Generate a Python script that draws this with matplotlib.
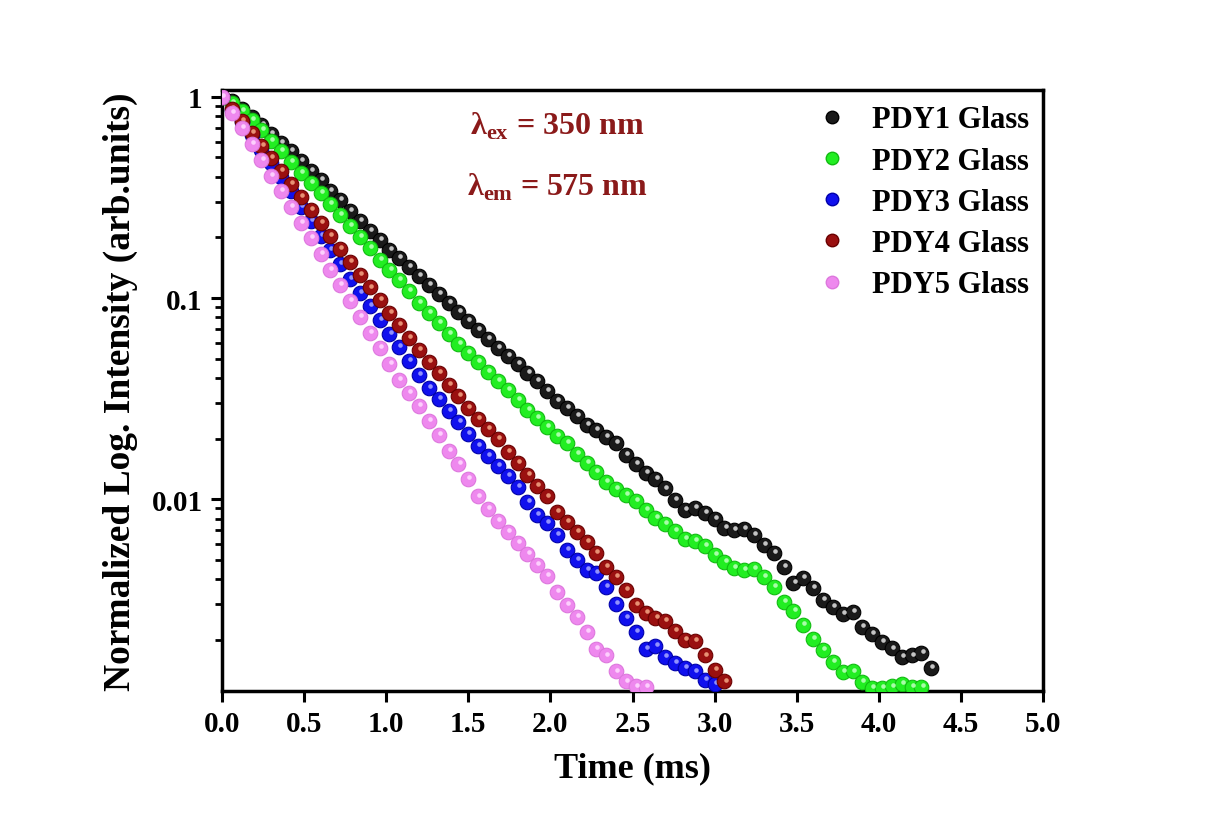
import matplotlib
matplotlib.use("Agg")
import matplotlib.pyplot as plt
import matplotlib.transforms as mtransforms
from matplotlib.lines import Line2D
import numpy as np

# ========================================================================
# Data (time in ms, normalized intensity)
# ========================================================================
time_ms = [
    0.00, 0.06, 0.12, 0.18, 0.24, 0.30, 0.36, 0.42, 0.48, 0.54,
    0.60, 0.66, 0.72, 0.78, 0.84, 0.90, 0.96, 1.02, 1.08, 1.14,
    1.20, 1.26, 1.32, 1.38, 1.44, 1.50, 1.56, 1.62, 1.68, 1.74,
    1.80, 1.86, 1.92, 1.98, 2.04, 2.10, 2.16, 2.22, 2.28, 2.34,
    2.40, 2.46, 2.52, 2.58, 2.64, 2.70, 2.76, 2.82, 2.88, 2.94,
    3.00, 3.06, 3.12, 3.18, 3.24, 3.30, 3.36, 3.42, 3.48, 3.54,
    3.60, 3.66, 3.72, 3.78, 3.84, 3.90, 3.96, 4.02, 4.08, 4.14,
    4.20, 4.26, 4.32,
]

pdy1 = [
    1.0, 0.955, 0.872, 0.795, 0.726, 0.654, 0.590, 0.538, 0.480, 0.428,
    0.387, 0.341, 0.307, 0.271, 0.242, 0.215, 0.194, 0.173, 0.158, 0.143,
    0.129, 0.116, 0.105, 0.0944, 0.0852, 0.0768, 0.0693, 0.0625, 0.0564, 0.0514,
    0.0469, 0.0423, 0.0386, 0.0345, 0.0307, 0.0284, 0.0259, 0.0233, 0.0220, 0.0203,
    0.0190, 0.0166, 0.0149, 0.0135, 0.0126, 0.0113, 0.00989, 0.00882, 0.00902, 0.00852,
    0.00795, 0.00717, 0.00701, 0.00709, 0.00662, 0.00590, 0.00538, 0.00459, 0.00382, 0.00405,
    0.00361, 0.00314, 0.00290, 0.00268, 0.00274, 0.00231, 0.00213, 0.00194, 0.00181, 0.00164,
    0.00167, 0.00171, 0.00144,
]

pdy2 = [
    1.0, 0.934, 0.852, 0.768, 0.685, 0.604, 0.538, 0.475, 0.419, 0.373,
    0.333, 0.294, 0.259, 0.228, 0.201, 0.177, 0.155, 0.138, 0.123, 0.108,
    0.0944, 0.0842, 0.0751, 0.0662, 0.0590, 0.0532, 0.0480, 0.0428, 0.0386, 0.0348,
    0.0311, 0.0277, 0.0253, 0.0228, 0.0206, 0.0190, 0.0167, 0.0151, 0.0136, 0.0122,
    0.0112, 0.0105, 0.00977, 0.00882, 0.00804, 0.00751, 0.00693, 0.00632, 0.00618, 0.00584,
    0.00526, 0.00486, 0.00454, 0.00443, 0.00448, 0.00409, 0.00365, 0.00307, 0.00277, 0.00236,
    0.00201, 0.00177, 0.00155, 0.00138, 0.00139, 0.00123, 0.00115, 0.00115, 0.00117, 0.00120,
    0.00116, 0.00116,
]

pdy3 = [
    1.0, 0.862, 0.751, 0.647, 0.545, 0.469, 0.400, 0.341, 0.284, 0.242,
    0.203, 0.173, 0.148, 0.124, 0.106, 0.0912, 0.0777, 0.0662, 0.0571, 0.0486,
    0.0414, 0.0357, 0.0314, 0.0274, 0.0242, 0.0211, 0.0184, 0.0164, 0.0146, 0.0130,
    0.0115, 0.00966, 0.00832, 0.00760, 0.00662, 0.00557, 0.00497, 0.00443, 0.00428, 0.00365,
    0.00300, 0.00256, 0.00218, 0.00179, 0.00186, 0.00164, 0.00153, 0.00144, 0.00139, 0.00126,
    0.00120,
]

pdy4 = [
    1.0, 0.872, 0.760, 0.662, 0.571, 0.497, 0.428, 0.369, 0.318, 0.274,
    0.236, 0.203, 0.175, 0.151, 0.130, 0.113, 0.0977, 0.0842, 0.0734, 0.0632,
    0.0551, 0.0480, 0.0423, 0.0369, 0.0325, 0.0284, 0.0250, 0.0223, 0.0199, 0.0171,
    0.0151, 0.0132, 0.0116, 0.0103, 0.00862, 0.00769, 0.00685, 0.00611, 0.00538, 0.00459,
    0.00409, 0.00353, 0.00297, 0.00271, 0.00256, 0.00247, 0.00220, 0.00199, 0.00197, 0.00167,
    0.00141, 0.00124,
]

pdy5 = [
    1.0, 0.833, 0.701, 0.584, 0.486, 0.405, 0.341, 0.284, 0.236, 0.199,
    0.166, 0.138, 0.116, 0.0966, 0.0804, 0.0670, 0.0564, 0.0469, 0.0391, 0.0337,
    0.0290, 0.0244, 0.0208, 0.0173, 0.0149, 0.0126, 0.0103, 0.00892, 0.00777, 0.00685,
    0.00604, 0.00533, 0.00469, 0.00414, 0.00345, 0.00297, 0.00259, 0.00218, 0.00179, 0.00167,
    0.00139, 0.00124, 0.00117, 0.00116,
]

labels = ["PDY1 Glass", "PDY2 Glass", "PDY3 Glass", "PDY4 Glass", "PDY5 Glass"]
series = [pdy1, pdy2, pdy3, pdy4, pdy5]

# ball colours: face, edge, highlight
cface = ["#1a1a1a", "#22ee22", "#1010ee", "#9a1010", "#ee88ee"]
cedge = ["#000000", "#11bb11", "#0000aa", "#6a0000", "#dd77dd"]
chigh = ["#d8d8d8", "#b8ffb8", "#a0a0ff", "#f0a080", "#ffd8ff"]

# ========================================================================
# Plot
# ========================================================================
plt.rcParams["font.family"] = ["Liberation Serif", "DejaVu Serif"]
plt.rcParams["font.weight"] = "bold"
plt.rcParams["mathtext.fontset"] = "custom"
plt.rcParams["mathtext.rm"] = "Liberation Serif"
plt.rcParams["mathtext.bf"] = "Liberation Serif:bold"

fig = plt.figure(figsize=(12.07, 8.28), dpi=100)
W, H = 1207.0, 828.0
ax = fig.add_axes([222 / W, 1 - 692 / H, (1043 - 222) / W, (692 - 91) / H])

hl = mtransforms.offset_copy(ax.transData, fig=fig, x=0.8, y=1.3, units="points")
for k, y in enumerate(series):
    t = time_ms[: len(y)]
    ax.plot(t, y, lw=0, marker="o", ms=10.5, mfc=cface[k], mec=cedge[k], mew=0.8,
            zorder=2 + k)
    ax.plot(t, y, lw=0, marker="o", ms=3.3, mfc=chigh[k], mec="none", alpha=0.9,
            transform=hl, zorder=2 + k)

ax.set_yscale("log")
ax.set_xlim(0, 5.0)
ax.set_ylim(0.00111, 1.083)
ax.set_xticks(np.arange(0, 5.01, 0.5))
ax.set_xticklabels([f"{v:.1f}" for v in np.arange(0, 5.01, 0.5)])
ax.set_yticks([0.01, 0.1, 1])
ax.set_yticklabels(["0.01", "0.1", "1"])

for s in ax.spines.values():
    s.set_linewidth(2.5)
ax.tick_params(axis="both", which="major", direction="out", length=8, width=2.2,
               labelsize=21, pad=6, top=False, right=False)
ax.tick_params(axis="y", which="minor", direction="out", length=5, width=2.0,
               right=False)
for lab in ax.get_xticklabels() + ax.get_yticklabels():
    lab.set_fontweight("bold")

ax.set_xlabel("Time (ms)", fontsize=26, fontweight="bold", labelpad=10)
ax.set_ylabel("Normalized Log. Intensity (arb.units)", fontsize=27,
              fontweight="bold", labelpad=10)

txtc = "#8b1a1a"
ax.text(0.302, 0.942, r"λ$_{\mathbf{ex}}$ = 350 nm", transform=ax.transAxes,
        fontsize=23, fontweight="bold", color=txtc, va="center")
ax.text(0.298, 0.840, r"λ$_{\mathbf{em}}$ = 575 nm", transform=ax.transAxes,
        fontsize=23, fontweight="bold", color=txtc, va="center")

handles = [
    Line2D([0], [0], lw=0, marker="o", ms=9, mfc=cface[k], mec=cedge[k],
           label=labels[k])
    for k in range(5)
]
leg = ax.legend(handles=handles, loc="upper right", frameon=False,
                prop={"size": 22, "weight": "bold"}, handletextpad=0.6,
                handlelength=1.4, labelspacing=0.4, borderaxespad=0.2,
                bbox_to_anchor=(1.005, 1.005))

fig.savefig("out.png", dpi=100)
